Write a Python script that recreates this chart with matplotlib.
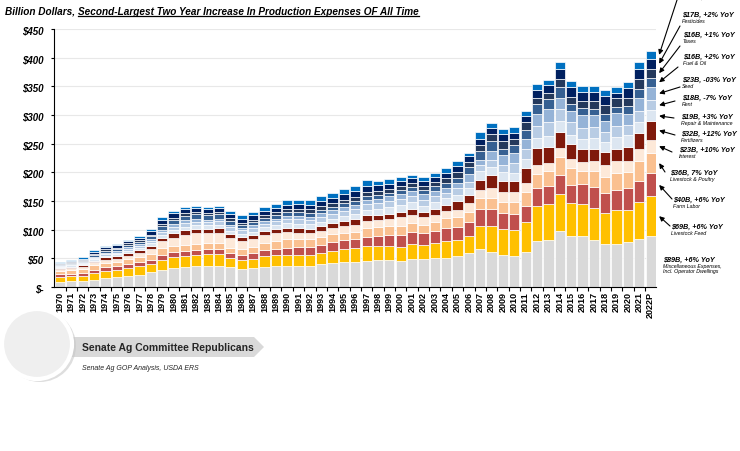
import matplotlib
matplotlib.use("Agg")
import matplotlib.pyplot as plt
import numpy as np
from matplotlib.patches import Circle, Polygon
from matplotlib.lines import Line2D
from matplotlib.transforms import IdentityTransform

plt.rcParams['font.family'] = ['Liberation Sans', 'DejaVu Sans']

years = [str(y) for y in range(1970, 2022)] + ["2022P"]

# billion dollars, bottom of the stack first
misc = [8.5, 10.0, 10.5, 12.5, 15.0, 17.0, 19.5, 21.5, 25.5, 29.5, 32.5, 34.5, 37.0, 37.5, 37.0, 34.5, 31.5, 32.5,
        35.5, 37.0, 37.5, 37.5, 37.0, 39.5, 42.0, 44.0, 43.0, 45.5, 47.5, 47.5, 45.5, 48.5, 48.5, 50.0, 51.0, 54.5,
        59.0, 66.0, 60.5, 56.5, 54.5, 60.5, 80.5, 82.0, 98.0, 88.5, 89.5, 82.0, 75.0, 75.0, 78.0, 83.5, 89.0]
feed = [9.0, 8.5, 9.5, 12.5, 13.5, 13.0, 14.0, 15.5, 14.5, 17.5, 19.0, 20.0, 18.5, 20.0, 20.0, 16.0, 16.0, 16.5,
        19.0, 18.5, 18.5, 18.5, 18.5, 20.0, 21.5, 22.0, 24.5, 25.5, 23.5, 23.5, 25.0, 26.0, 25.5, 27.0, 29.5, 28.0,
        30.0, 40.5, 46.5, 44.5, 45.5, 53.5, 60.0, 62.5, 64.0, 58.0, 55.0, 55.5, 54.0, 60.0, 57.0, 65.0, 69.0]
labor = [4.5, 4.5, 4.7, 5.5, 6.0, 6.5, 7.0, 7.3, 7.5, 8.5, 8.8, 9.0, 9.5, 9.5, 9.5, 9.0, 9.0, 10.0,
         10.5, 11.5, 12.5, 13.0, 13.5, 14.0, 14.5, 15.5, 16.0, 17.0, 18.5, 20.0, 20.5, 21.0, 20.5, 21.0, 23.0, 22.5,
         24.5, 29.0, 29.0, 28.0, 27.5, 28.0, 32.0, 32.0, 33.0, 32.0, 35.0, 36.5, 35.0, 35.0, 37.0, 36.5, 40.0]
livestock = [6.0, 6.5, 7.0, 8.0, 7.5, 6.5, 7.5, 7.5, 9.5, 12.0, 11.0, 10.0, 9.5, 9.0, 9.5, 9.0, 9.5, 11.0,
             12.5, 13.5, 14.5, 14.0, 14.0, 14.5, 14.0, 13.0, 12.5, 14.5, 14.5, 15.5, 16.0, 16.5, 14.5, 15.5, 17.5, 17.5,
             18.0, 19.0, 19.0, 18.5, 20.0, 23.3, 24.5, 25.5, 32.5, 29.0, 22.0, 28.0, 28.5, 28.5, 28.0, 35.0, 36.0]
interest = [3.5, 3.8, 4.0, 4.5, 5.0, 5.5, 6.5, 7.5, 9.5, 12.0, 14.5, 17.5, 19.5, 19.0, 19.0, 17.0, 14.5, 13.5,
            13.0, 13.0, 13.0, 12.0, 10.5, 10.0, 10.5, 11.5, 12.0, 12.5, 12.5, 12.8, 14.5, 14.0, 12.5, 12.0, 11.5, 12.0,
            15.5, 15.5, 17.0, 18.5, 17.5, 16.3, 16.3, 15.0, 15.0, 15.5, 17.0, 17.5, 20.0, 21.0, 20.5, 20.3, 23.0]
fertilizer = [1.8, 2.0, 2.5, 2.2, 4.5, 5.0, 5.0, 5.2, 5.5, 6.5, 8.0, 8.5, 8.0, 7.0, 8.0, 7.5, 6.8, 6.5,
              6.8, 7.0, 7.5, 7.5, 7.8, 8.0, 8.5, 9.5, 10.0, 10.0, 9.5, 8.8, 9.0, 10.0, 8.5, 10.0, 11.0, 15.0,
              13.0, 16.5, 23.0, 19.0, 20.0, 25.6, 29.7, 28.0, 28.0, 26.0, 22.0, 21.5, 23.0, 21.5, 24.5, 29.0, 32.0]
repair = [2.2, 2.3, 2.5, 2.8, 3.3, 3.5, 3.8, 4.0, 4.5, 5.0, 5.5, 5.7, 5.7, 5.5, 5.7, 5.5, 6.0, 6.5,
          6.6, 7.0, 7.5, 7.8, 7.9, 8.1, 8.4, 8.8, 9.0, 9.5, 9.8, 12.0, 12.5, 11.5, 12.0, 12.3, 11.5, 11.5,
          12.5, 15.0, 14.5, 15.0, 14.0, 16.3, 16.9, 18.5, 19.0, 16.5, 18.5, 19.0, 17.5, 21.5, 20.0, 18.6, 19.0]
rent = [1.5, 1.7, 1.9, 2.6, 2.9, 3.1, 3.2, 3.4, 4.0, 5.0, 6.0, 6.5, 6.5, 6.0, 6.3, 6.0, 5.7, 6.5,
        6.7, 7.0, 7.5, 7.8, 8.0, 8.3, 8.5, 9.0, 9.3, 9.5, 10.0, 10.0, 10.5, 10.5, 10.5, 10.7, 9.5, 11.0,
        11.5, 11.0, 12.5, 13.0, 16.5, 17.4, 20.3, 24.5, 20.5, 21.5, 19.0, 18.5, 16.5, 18.0, 17.5, 19.2, 18.0]
seed = [1.2, 1.3, 1.5, 2.0, 2.2, 2.5, 2.8, 3.0, 3.2, 3.6, 4.0, 4.5, 4.0, 3.8, 4.0, 3.8, 3.6, 4.3,
        4.5, 4.8, 5.0, 5.2, 5.5, 5.8, 6.0, 6.5, 7.0, 7.5, 7.8, 8.0, 8.5, 9.0, 9.5, 9.8, 9.0, 9.0,
        13.0, 9.0, 14.5, 17.5, 17.5, 17.4, 21.5, 22.0, 20.5, 20.0, 21.5, 21.0, 20.0, 23.0, 20.0, 23.0, 23.0]
fuel = [1.8, 1.9, 2.0, 3.0, 3.3, 3.5, 3.8, 4.0, 4.6, 6.0, 8.0, 8.5, 8.3, 8.0, 7.5, 7.5, 5.5, 5.7,
        5.5, 6.0, 7.0, 7.0, 7.0, 6.8, 6.5, 6.8, 7.5, 7.7, 7.0, 6.5, 8.0, 8.0, 7.3, 8.3, 8.0, 9.5,
        13.0, 15.0, 18.0, 9.5, 15.0, 16.3, 17.4, 18.5, 18.5, 12.0, 13.5, 11.0, 12.0, 10.0, 14.0, 16.0, 16.0]
taxes = [1.4, 1.5, 1.6, 2.4, 2.5, 2.7, 2.9, 3.1, 3.2, 3.5, 3.8, 3.9, 4.1, 4.2, 4.3, 4.7, 4.2, 4.5,
         4.7, 5.0, 5.2, 5.4, 5.7, 5.8, 5.9, 6.0, 6.2, 6.4, 6.5, 6.2, 6.7, 6.7, 6.7, 7.0, 8.7, 9.7,
         8.7, 10.7, 11.7, 14.7, 10.2, 12.8, 10.5, 10.5, 14.5, 13.0, 11.5, 14.0, 16.0, 15.5, 14.0, 17.0, 16.0]
pesticides = [1.2, 1.4, 1.7, 3.4, 3.4, 3.9, 4.2, 3.7, 6.4, 7.9, 7.9, 7.4, 6.4, 5.9, 6.4, 6.9, 6.9, 7.6,
              7.4, 7.6, 7.9, 8.2, 8.4, 8.9, 8.9, 9.4, 9.9, 10.4, 10.2, 9.4, 8.9, 8.9, 8.9, 9.0, 8.9, 10.4,
              9.4, 11.4, 10.9, 11.9, 10.9, 10.5, 14.5, 12.8, 16.5, 17.0, 16.0, 16.0, 16.5, 10.0, 16.0, 17.0, 17.0]
other = [0.7, 1.9, 2.9, 3.2, 1.9, 2.4, 2.5, 2.8, 4.1, 5.9, 3.9, 3.9, 3.6, 3.6, 4.6, 5.6, 6.4, 5.9,
         6.3, 6.9, 8.0, 7.9, 7.4, 8.3, 7.9, 9.0, 9.6, 10.5, 8.2, 7.7, 6.3, 4.8, 6.1, 6.1, 8.8, 9.4,
         4.9, 11.1, 8.8, 8.9, 10.4, 9.9, 9.9, 9.2, 12.0, 10.0, 9.5, 9.5, 10.0, 9.0, 11.5, 11.9, 14.0]

series = [misc, feed, labor, livestock, interest, fertilizer, repair, rent, seed, fuel, taxes, pesticides, other]
colors = ['#d9d9d9', '#ffc000', '#c0504d', '#fac090', '#fde9d9', '#7f1a0c', '#dce6f1', '#b8cce4',
          '#95b3d7', '#366092', '#24395c', '#002060', '#0070c0']

# labels for the 2022P segments (index into series), text left/centre in pixels, arrow tail in pixels
ann_idx = [11, 10, 9, 8, 7, 6, 5, 4, 3, 2, 1]
ann_main = ['$17B, +2% YoY', '$16B, +1% YoY', '$16B, +2% YoY', '$23B, -03% YoY', '$18B, -7% YoY',
            '$19B, +3% YoY', '$32B, +12% YoY', '$23B, +10% YoY', '$36B, 7% YoY', '$40B, +6% YoY',
            '$69B, +6% YoY']
ann_sub = ['Pesticides', 'Taxes', 'Fuel & Oil', 'Seed', 'Rent', 'Repair & Maintenance', 'Fertilizers',
           'Interest', 'Livestock & Poultry', 'Farm Labor', 'Livestock Feed']
ann_xy = [(682, 15), (683, 35), (683, 57), (682, 80), (682, 98), (681, 117), (681, 134), (679, 150),
          (670, 173), (673, 200), (671, 227)]
ann_tail = [(680, 27), (680, 47), (678, 68), (680, 88), (675, 102), (674, 119), (675, 136), (672, 153),
            (665, 173), (672, 200), (670, 227)]

W, H = 740, 452


def fx(px):
    return px / W


def fy(py):
    return 1 - py / H


fig = plt.figure(figsize=(7.4, 4.52), dpi=100)
ax = fig.add_axes([fx(54.3), fy(288), 602 / W, 258 / H])

x = np.arange(len(years))
bottom = np.zeros(len(years))
for vals, c in zip(series, colors):
    ax.bar(x, vals, 0.9, bottom=bottom, color=c, edgecolor='white', linewidth=0.5, zorder=2)
    bottom += np.array(vals)

ax.set_xlim(-0.5, len(years) - 0.5)
ax.set_ylim(0, 450)
ax.set_yticks(range(0, 451, 50))
ax.set_yticklabels(['$-'] + ['$%d' % v for v in range(50, 451, 50)],
                   fontsize=7, fontweight='bold', style='italic')
ax.set_xticks(x)
ax.set_xticklabels(years, rotation=90, fontsize=6.5, fontweight='bold')
ax.set_xticks(x[:-1] + 0.5, minor=True)
ax.tick_params(axis='x', which='major', length=0, pad=3)
ax.tick_params(axis='x', which='minor', length=3, width=0.8)
ax.tick_params(axis='y', length=2, width=0.8, pad=6)
ax.yaxis.grid(True, color='#e8e8e8', linewidth=0.8, zorder=0)
ax.set_axisbelow(True)
for s in ['top', 'right']:
    ax.spines[s].set_visible(False)
for s in ['left', 'bottom']:
    ax.spines[s].set_color('black')
    ax.spines[s].set_linewidth(0.8)

# segment annotations for the last bar
last = len(years) - 1
cum = np.cumsum([s[last] for s in series])
starts = np.concatenate([[0], cum[:-1]])
arrow = dict(arrowstyle='-|>', color='black', lw=0.8, mutation_scale=7, shrinkA=0, shrinkB=0)
for i, main, sub, (tx, ty), (ax0, ay0) in zip(ann_idx, ann_main, ann_sub, ann_xy, ann_tail):
    mid = starts[i] + series[i][last] / 2
    ax.annotate('', xy=(last + 0.75, mid), xycoords='data', xytext=(fx(ax0), fy(ay0)),
                textcoords='figure fraction', annotation_clip=False, arrowprops=arrow)
    fig.text(fx(tx), fy(ty), main, fontsize=5.2, fontweight='bold', style='italic', va='center')
    fig.text(fx(tx), fy(ty + 6.5), sub, fontsize=3.8, style='italic', va='center')

# top segment label, mostly cut off by the top edge
mid = starts[12] + series[12][last] / 2
ax.annotate('', xy=(last + 0.75, mid), xycoords='data', xytext=(fx(678), fy(-2)),
            textcoords='figure fraction', annotation_clip=False, arrowprops=arrow)
fig.text(fx(684), fy(-3), '$14B, +4% YoY', fontsize=5.2, fontweight='bold', style='italic', va='center')

# misc label, no arrow
fig.text(fx(663), fy(260), '$89B, +6% YoY', fontsize=5.2, fontweight='bold', style='italic', va='center')
fig.text(fx(663), fy(266.5), 'Miscellaneous Expenses,', fontsize=3.8, style='italic', va='center')
fig.text(fx(663), fy(271.5), 'Incl. Operator Dwellings', fontsize=3.8, style='italic', va='center')

# subtitle with underlined part
t1 = fig.text(fx(5), fy(12), 'Billion Dollars,', fontsize=7.2, fontweight='bold', style='italic', va='center')
fig.canvas.draw()
bb1 = t1.get_window_extent()
t2 = fig.text(fx(bb1.x1 + 3), fy(12), 'Second-Largest Two Year Increase In Production Expenses OF All Time',
              fontsize=7.2, fontweight='bold', style='italic', va='center')
fig.canvas.draw()
bb2 = t2.get_window_extent()
fig.add_artist(Line2D([bb2.x0, bb2.x1], [bb2.y0 + 0.5, bb2.y0 + 0.5], color='black', lw=0.9,
                      transform=IdentityTransform()))

# footer: banner and round badge
inch = fig.dpi_scale_trans


def P(px, py):
    return (px / 100, (H - py) / 100)


banner = Polygon([P(60, 338), P(254, 338), P(264, 348), P(254, 358), P(60, 358)], closed=True,
                 facecolor='#d9d9d9', edgecolor='none', transform=inch)
fig.add_artist(banner)
fig.add_artist(Circle(P(40, 347), 0.36, facecolor='#c8c8c8', edgecolor='none', alpha=0.6, transform=inch))
fig.add_artist(Circle(P(37, 345), 0.35, facecolor='#efefef', edgecolor='white', lw=3, transform=inch))
fig.text(fx(82), fy(348), 'Senate Ag Committee Republicans', fontsize=7.5, fontweight='bold',
         color='#262626', va='center')
fig.text(fx(82), fy(368), 'Senate Ag GOP Analysis, USDA ERS', fontsize=5, style='italic',
         color='#262626', va='center')

fig.savefig('out.png', dpi=100)
